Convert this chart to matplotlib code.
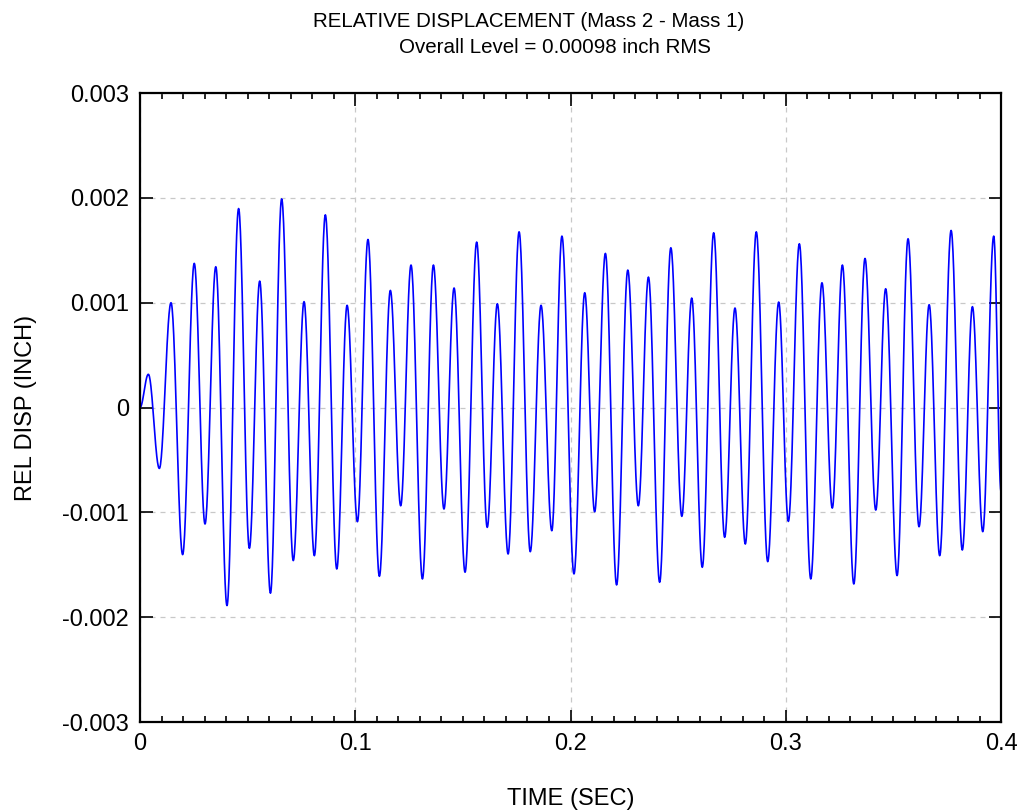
import numpy as np
import matplotlib.pyplot as plt
from matplotlib.ticker import MultipleLocator

plt.rcParams['font.family'] = ['Liberation Sans', 'DejaVu Sans']

# Extrema of the relative displacement time history (time in sec, value in 0.001 inch)
t_ext = [0.0, 0.00387, 0.00898, 0.0144, 0.0198, 0.0252, 0.0302, 0.0352, 0.0404, 0.0458,
         0.0508, 0.0556, 0.0606, 0.0658, 0.0712, 0.0762, 0.0810, 0.0861, 0.0914, 0.0962,
         0.1010, 0.1059, 0.1112, 0.1163, 0.1211, 0.1259, 0.1312, 0.1363, 0.1412, 0.1459,
         0.1510, 0.1564, 0.1613, 0.1660, 0.1710, 0.1761, 0.1813, 0.1863, 0.1913, 0.1960,
         0.2016, 0.2066, 0.2112, 0.2162, 0.2214, 0.2266, 0.2315, 0.2362, 0.2414, 0.2466,
         0.2517, 0.2563, 0.2612, 0.2665, 0.2716, 0.2764, 0.2812, 0.2863, 0.2916, 0.2967,
         0.3012, 0.3063, 0.3116, 0.3168, 0.3216, 0.3263, 0.3316, 0.3368, 0.3418, 0.3464,
         0.3517, 0.3568, 0.3619, 0.3666, 0.3715, 0.3768, 0.3820, 0.3867, 0.3915, 0.3966,
         0.4000]
y_ext = [0.0, 0.317, -0.581, 1.000, -1.403, 1.375, -1.111, 1.343, -1.889, 1.898,
         -1.343, 1.206, -1.771, 1.990, -1.460, 1.010, -1.413, 1.838, -1.540, 0.975,
         -1.089, 1.603, -1.610, 1.117, -0.937, 1.359, -1.635, 1.359, -0.968, 1.140,
         -1.571, 1.578, -1.143, 0.990, -1.397, 1.676, -1.375, 0.975, -1.175, 1.635,
         -1.587, 1.095, -0.994, 1.470, -1.692, 1.311, -0.937, 1.244, -1.667, 1.524,
         -1.038, 1.044, -1.524, 1.667, -1.238, 0.949, -1.302, 1.676, -1.470, 1.006,
         -1.086, 1.562, -1.635, 1.190, -0.959, 1.359, -1.683, 1.422, -0.978, 1.133,
         -1.603, 1.610, -1.137, 0.981, -1.413, 1.689, -1.359, 0.962, -1.184, 1.635,
         -0.800]

t_ext = np.array(t_ext)
y_ext = np.array(y_ext) * 1e-3

# smooth half-cosine shape between neighbouring extrema
tt, yy = [], []
for i in range(len(t_ext) - 1):
    s = np.linspace(0, 1, 30, endpoint=False)
    tt.append(t_ext[i] + s * (t_ext[i + 1] - t_ext[i]))
    yy.append(y_ext[i] + (y_ext[i + 1] - y_ext[i]) * (1 - np.cos(np.pi * s)) / 2)
tt.append([t_ext[-1]])
yy.append([y_ext[-1]])
tt = np.concatenate(tt)
yy = np.concatenate(yy)

fig = plt.figure(figsize=(10.22, 8.11), dpi=100)
ax = fig.add_axes([0.137, 0.1097, 0.8425, 0.7756])

ax.plot(tt, yy, color='#0000ff', lw=1.2)

ax.set_xlim(0, 0.4)
ax.set_ylim(-0.003, 0.003)
ax.set_xticks([0, 0.1, 0.2, 0.3, 0.4])
ax.set_xticklabels(['0', '0.1', '0.2', '0.3', '0.4'])
ax.xaxis.set_minor_locator(MultipleLocator(0.01))
ax.set_yticks([-0.003, -0.002, -0.001, 0, 0.001, 0.002, 0.003])
ax.set_yticklabels(['-0.003', '-0.002', '-0.001', '0', '0.001', '0.002', '0.003'])

ax.tick_params(which='both', direction='in', top=True, right=True, labelsize=17, width=1.2)
ax.tick_params(which='major', length=9, pad=8)
ax.tick_params(which='minor', length=4.5)
for sp in ax.spines.values():
    sp.set_linewidth(1.6)

ax.grid(True, which='major', color='#c8c8c8', linestyle=(0, (4, 4)), lw=0.9)

ax.set_xlabel('TIME (SEC)', fontsize=17, labelpad=24)
ax.set_ylabel('REL DISP (INCH)', fontsize=17, labelpad=18)

fig.text(0.517, 0.973, 'RELATIVE DISPLACEMENT (Mass 2 - Mass 1)', ha='center', va='center', fontsize=14.8)
fig.text(0.543, 0.942, 'Overall Level = 0.00098 inch RMS', ha='center', va='center', fontsize=14.8)

fig.savefig('out.png', dpi=100)
